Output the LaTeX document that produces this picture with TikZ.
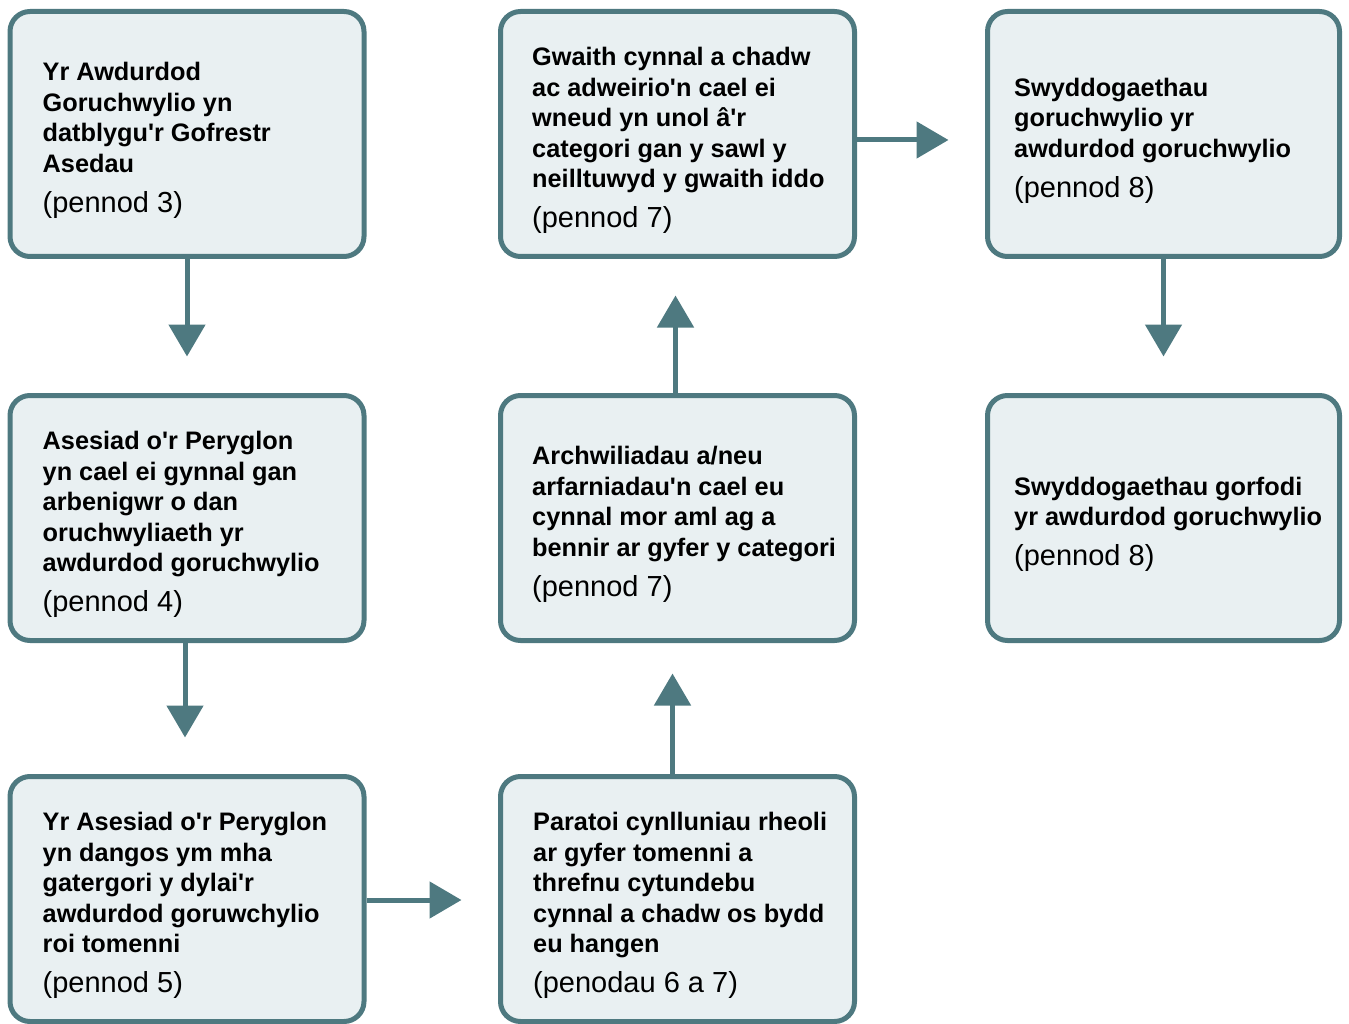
\documentclass[tikz,border=0pt]{standalone}
\usepackage{fontspec}
\setmainfont{Liberation Sans}
\usetikzlibrary{arrows.meta,calc}
\definecolor{edge}{RGB}{78,121,128}
\definecolor{boxfill}{RGB}{233,240,242}
\newcommand\ap{\textquotesingle}
\newcommand\boxtext[2]{{\bfseries\fontsize{25.3}{30.5}\selectfont\spaceskip=0pt\xspaceskip=0pt #1\par}{\fontsize{29}{40}\selectfont\spaceskip=0pt\xspaceskip=0pt #2\par}}
\begin{document}
\begin{tikzpicture}[x=1pt,y=-1pt,
  stagebox/.style={draw=edge,fill=boxfill,line width=5pt,rounded corners=20pt,
    minimum width=354pt,minimum height=245pt,inner sep=0pt},
  stagetext/.style={anchor=west,text width=330pt,align=left,inner sep=0pt,yshift=-6.5pt},
  flow/.style={draw=edge,line width=5pt,-{Triangle[length=32pt,width=36pt]},shorten >=36.5pt}]
\useasboundingbox (0,0) rectangle (1349,1024);
\node[stagebox] (b1) at (187,134) {};
\node[stagebox] (b2) at (187,518) {};
\node[stagebox] (b3) at (187,899) {};
\node[stagebox] (b4) at (677.5,899) {};
\node[stagebox] (b5) at (677.5,518) {};
\node[stagebox] (b6) at (677.5,134) {};
\node[stagebox,minimum width=352pt] (b7) at (1163.5,134) {};
\node[stagebox,minimum width=352pt] (b8) at (1163.5,518) {};

\node[stagetext] (t1) at ([xshift=35pt]b1.west) {\boxtext{Yr Awdurdod\\Goruchwylio yn\\datblygu\ap r Gofrestr\\Asedau}{(pennod 3)}};
\node[stagetext] (t2) at ([xshift=35pt]b2.west) {\boxtext{Asesiad o\ap r Peryglon\\yn cael ei gynnal gan\\arbenigwr o dan\\oruchwyliaeth yr\\awdurdod goruchwylio}{(pennod 4)}};
\node[stagetext] (t3) at ([xshift=35pt]b3.west) {\boxtext{Yr Asesiad o\ap r Peryglon\\yn dangos ym mha\\gatergori y dylai\ap r\\awdurdod goruwchylio\\roi tomenni}{(pennod 5)}};
\node[stagetext] (t4) at ([xshift=35pt]b4.west) {\boxtext{Paratoi cynlluniau rheoli\\ar gyfer tomenni a\\threfnu cytundebu\\cynnal a chadw os bydd\\eu hangen}{(penodau 6 a 7)}};
\node[stagetext] (t5) at ([xshift=34pt]b5.west) {\boxtext{Archwiliadau a/neu\\arfarniadau\ap n cael eu\\cynnal mor aml ag a\\bennir ar gyfer y categori}{(pennod 7)}};
\node[stagetext] (t6) at ([xshift=34pt]b6.west) {\boxtext{Gwaith cynnal a chadw\\ac adweirio\ap n cael ei\\wneud yn unol â\ap r\\categori gan y sawl y\\neilltuwyd y gwaith iddo}{(pennod 7)}};
\node[stagetext] (t7) at ([xshift=29pt]b7.west) {\boxtext{Swyddogaethau\\goruchwylio yr\\awdurdod goruchwylio}{(pennod 8)}};
\node[stagetext] (t8) at ([xshift=29pt]b8.west) {\boxtext{Swyddogaethau gorfodi\\yr awdurdod goruchwylio}{(pennod 8)}};

\draw[flow] (b1.south) -- (b2.north);
\draw[flow] ([xshift=-2pt]b2.south) -- ([xshift=-2pt]b3.north);
\draw[flow] ([yshift=-1pt]b3.east) -- ([yshift=-1pt]b4.west);
\draw[flow,shorten >=30.5pt] ([xshift=-5pt]b4.north) -- ([xshift=-5pt]b5.south);
\draw[flow] ([xshift=-2pt]b5.north) -- ([xshift=-2pt]b6.south);
\draw[flow] ([yshift=-6pt]b6.east) -- ([yshift=-6pt]b7.west);
\draw[flow] (b7.south) -- (b8.north);
\end{tikzpicture}
\end{document}
